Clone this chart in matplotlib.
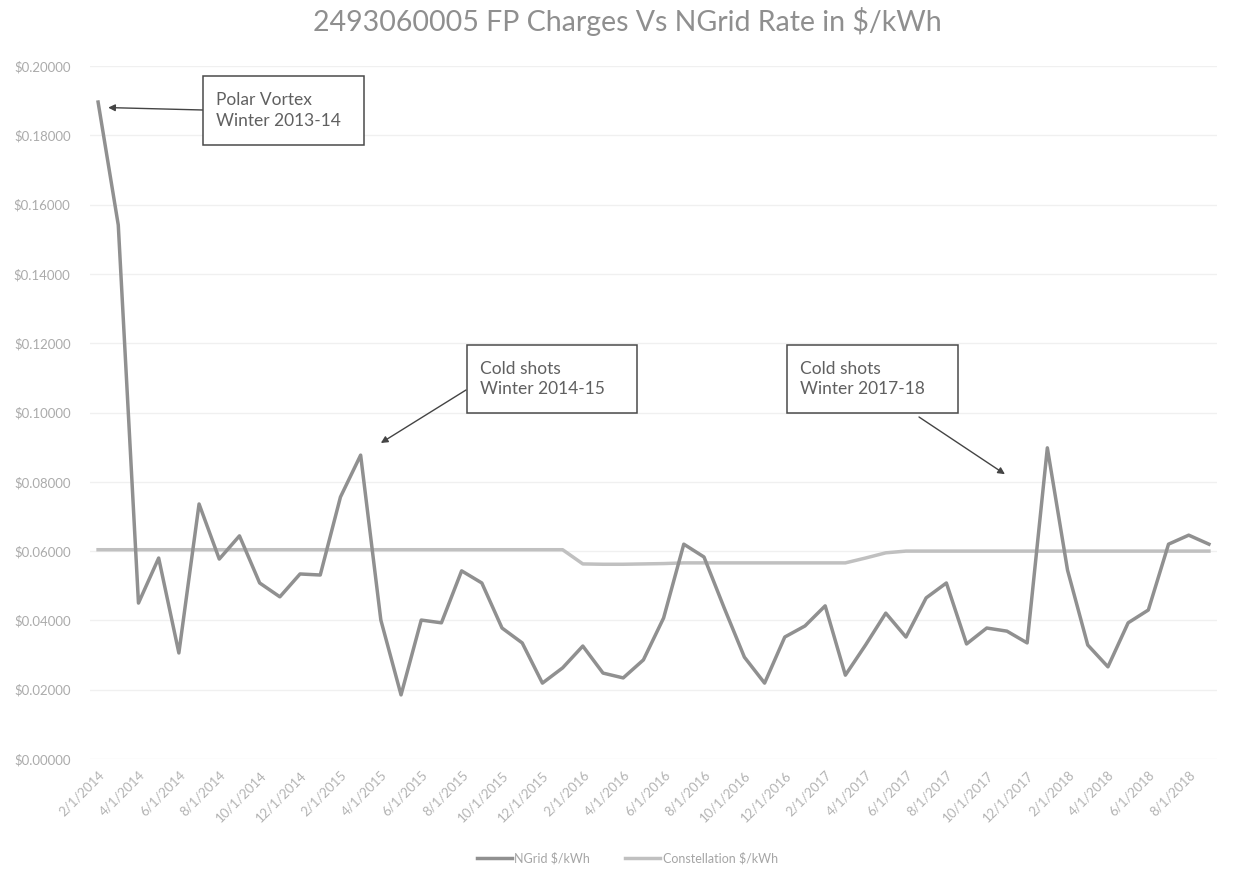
import matplotlib
matplotlib.use("Agg")
import matplotlib.pyplot as plt
from matplotlib.patches import Rectangle
import pandas as pd

W, H = 1247, 884

months = pd.date_range("2014-02-01", periods=56, freq="MS")

ngrid = [0.1896, 0.1541, 0.0450, 0.0580, 0.0306, 0.0736, 0.0577, 0.0644,
         0.0508, 0.0468, 0.0534, 0.0531, 0.0756, 0.0877, 0.0401, 0.0185,
         0.0401, 0.0393, 0.0543, 0.0508, 0.0378, 0.0335, 0.0219, 0.0263,
         0.0326, 0.0248, 0.0234, 0.0286, 0.0407, 0.0620, 0.0583, 0.0436,
         0.0294, 0.0219, 0.0352, 0.0384, 0.0442, 0.0242, 0.0329, 0.0421,
         0.0352, 0.0465, 0.0508, 0.0332, 0.0378, 0.0369, 0.0335, 0.0898,
         0.0545, 0.0329, 0.0266, 0.0393, 0.0430, 0.0620, 0.0646, 0.0620]

constellation = [0.0604] * 24 + [0.0563, 0.0562, 0.0562, 0.0563, 0.0564] + \
                [0.0566] * 9 + [0.0580, 0.0595] + [0.0600] * 16

yticks = [0.0, 0.02, 0.04, 0.06, 0.08, 0.10, 0.12, 0.14, 0.16, 0.18, 0.20]

# annotation boxes: text, box (x0, y0, x1, y1) in pixels, arrow tail pixel, arrow head (index, value)
notes = [
    ("Polar Vortex\nWinter 2013-14", (203, 76, 364, 145), (203, 110), (0.5, 0.188)),
    ("Cold shots\nWinter 2014-15", (467, 345, 637, 413), (466, 390), (14.0, 0.0912)),
    ("Cold shots\nWinter 2017-18", (787, 345, 958, 413), (919, 417), (44.9, 0.0822)),
]

plt.rcParams['font.family'] = ['Lato', 'DejaVu Sans']


def fig_frac(x, y):
    return x / W, 1 - y / H


fig = plt.figure(figsize=(W / 100, H / 100), dpi=100)
ax = fig.add_axes([90 / W, 1 - 759 / H, (1217 - 90) / W, (759 - 66) / H])

x = list(range(len(months)))
ax.plot(x, ngrid, color="#909090", lw=2.5, label="NGrid $/kWh", zorder=3)
ax.plot(x, constellation, color="#c0c0c0", lw=2.5, label="Constellation $/kWh", zorder=2)

ax.set_xlim(-0.4, 55.4)
ax.set_ylim(0, 0.2)
ax.set_yticks(yticks)
ax.set_yticklabels(["${:.5f}".format(v) for v in yticks], color="#ababab", fontsize=9.5)
ax.yaxis.grid(True, color="#f0f0f0", lw=1)
ax.set_axisbelow(True)

ax.set_xticks(x[::2])
ax.set_xticklabels([f"{m.month}/1/{m.year}" for m in months[::2]],
                   rotation=45, ha="right", va="top", rotation_mode="anchor",
                   color="#b3b3b3", fontsize=9.5)
ax.tick_params(length=0, axis="both")
ax.tick_params(axis="y", pad=14)
ax.tick_params(axis="x", pad=7)
for s in ax.spines.values():
    s.set_visible(False)

fig.text(0.503, 1 - 21 / H, "2493060005 FP Charges Vs NGrid Rate in $/kWh",
         ha="center", va="center", fontsize=20.5, color="#8f8f8f")

for text, (x0, y0, x1, y1), tail, head in notes:
    bx, by = fig_frac(x0, y1)
    fig.patches.append(Rectangle((bx, by), (x1 - x0) / W, (y1 - y0) / H,
                                 transform=fig.transFigure, fill=True, facecolor="white",
                                 edgecolor="#4a4a4a", lw=1.1, zorder=5))
    tx, ty = fig_frac(x0 + 13, (y0 + y1) / 2)
    fig.text(tx, ty, text, ha="left", va="center", fontsize=12.5,
             color="#606060", linespacing=1.35, zorder=6)
    ax.annotate("", xy=head, xycoords="data", xytext=fig_frac(*tail),
                textcoords="figure fraction",
                arrowprops=dict(arrowstyle="-|>", color="#444444", lw=1.0,
                                mutation_scale=10, shrinkA=0, shrinkB=0))

fig.legend(loc="center", bbox_to_anchor=(0.503, 1 - 858 / H), ncol=2, frameon=False,
           fontsize=9, labelcolor="#a5a5a5", handlelength=2.8, handletextpad=0.2,
           columnspacing=2.8)

fig.savefig("out.png", dpi=100, facecolor="white")
